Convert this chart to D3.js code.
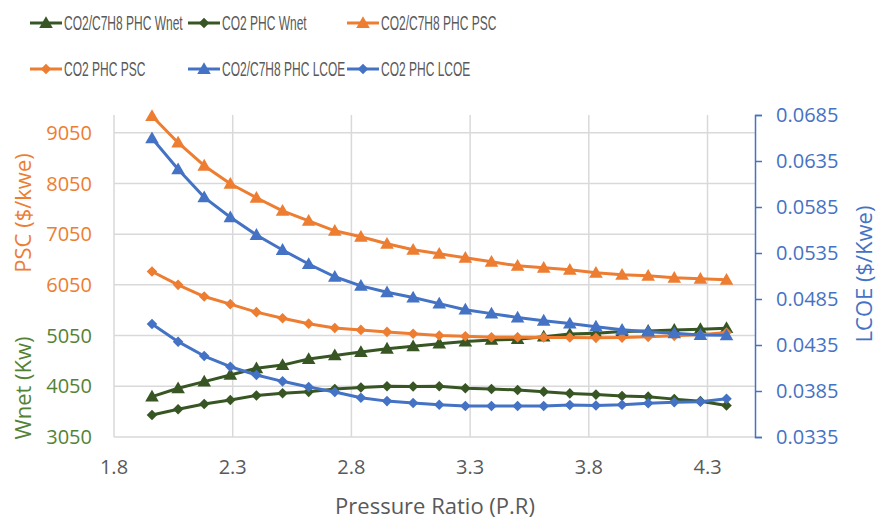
<!DOCTYPE html>
<html>
<head>
<meta charset="utf-8">
<script src="https://cdn.jsdelivr.net/npm/d3@7"></script>
<style>
  body { margin: 0; background: #fff; }
  svg { display: block; }
  .tick-label { font-family: "Open Sans", sans-serif; font-size: 20px; }
  .axis-title { font-family: "Open Sans", sans-serif; font-size: 22px; }
  .legend-label { font-family: "Liberation Sans", sans-serif; font-size: 20px; fill: #595959; }
</style>
</head>
<body>
<div id="chart"></div>
<script>
// Pressure ratio values (x)
const pressureRatio = [1.96, 2.07, 2.18, 2.29, 2.40, 2.51, 2.62, 2.73, 2.84, 2.95, 3.06, 3.17,
  3.28, 3.39, 3.50, 3.61, 3.72, 3.83, 3.94, 4.05, 4.16, 4.27, 4.38];

// Net work (Kw), left axis
const wnetMix = [3846, 4011, 4142, 4274, 4406, 4468, 4587, 4659, 4725, 4791, 4840, 4890,
  4931, 4965, 4979, 5028, 5080, 5097, 5129, 5142, 5162, 5176, 5196];
const wnetCO2 = [3484, 3597, 3701, 3780, 3870, 3913, 3940, 3995, 4027, 4050, 4045, 4050,
  4011, 3997, 3978, 3944, 3910, 3886, 3859, 3846, 3797, 3757, 3672];

// PSC ($/kwe), left axis
const pscMix = [9380, 8854, 8400, 8044, 7768, 7511, 7314, 7116, 6998, 6860, 6741, 6662,
  6583, 6505, 6426, 6386, 6347, 6287, 6248, 6228, 6189, 6169, 6149];
const pscCO2 = [6313, 6050, 5820, 5670, 5512, 5393, 5285, 5200, 5162, 5123, 5087, 5053,
  5037, 5018, 5018, 5014, 5012, 5005, 5010, 5025, 5045, 5065, 5110];

// LCOE ($/Kwe), right axis
const lcoeMix = [0.06597, 0.0626, 0.05955, 0.05738, 0.05546, 0.05383, 0.0523, 0.05092, 0.04993,
  0.04923, 0.04866, 0.048, 0.04734, 0.04691, 0.04649, 0.04614, 0.04583, 0.04549, 0.04515,
  0.04495, 0.04477, 0.04459, 0.04455];
const lcoeCO2 = [0.04578, 0.04386, 0.0423, 0.04114, 0.04024, 0.03955, 0.03893, 0.0384, 0.03776,
  0.0374, 0.0372, 0.037, 0.03687, 0.03687, 0.03687, 0.03687, 0.03698, 0.03692, 0.037,
  0.03716, 0.03728, 0.03734, 0.03765];

const xTicks = [1.8, 2.3, 2.8, 3.3, 3.8, 4.3];
const leftTicks = [3050, 4050, 5050, 6050, 7050, 8050, 9050];
const rightTicks = [0.0335, 0.0385, 0.0435, 0.0485, 0.0535, 0.0585, 0.0635, 0.0685];

const green = "#375623", greenText = "#548235", orange = "#ED7D31", blue = "#4472C4";
const grey = "#595959", grid = "#D9D9D9";

const series = [
  { name: "CO2/C7H8 PHC Wnet", values: wnetMix, axis: "left", color: green, marker: "triangle" },
  { name: "CO2 PHC Wnet", values: wnetCO2, axis: "left", color: green, marker: "diamond" },
  { name: "CO2/C7H8 PHC PSC", values: pscMix, axis: "left", color: orange, marker: "triangle" },
  { name: "CO2 PHC PSC", values: pscCO2, axis: "left", color: orange, marker: "diamond" },
  { name: "CO2/C7H8 PHC LCOE", values: lcoeMix, axis: "right", color: blue, marker: "triangle" },
  { name: "CO2 PHC LCOE", values: lcoeCO2, axis: "right", color: blue, marker: "diamond" }
];

const width = 880, height = 522;
const plot = { left: 114, right: 755, top: 115, bottom: 437 };

const svg = d3.select("#chart").append("svg")
  .attr("width", width)
  .attr("height", height);

const x = d3.scaleLinear().domain([1.8, 4.5]).range([plot.left, plot.right]);
const yLeft = d3.scaleLinear().domain([3050, 9400]).range([plot.bottom, plot.top]);
const yRight = d3.scaleLinear().domain([0.0335, 0.0685]).range([plot.bottom, plot.top]);

// gridlines
svg.append("g").selectAll("line.h")
  .data(leftTicks)
  .join("line")
  .attr("x1", plot.left).attr("x2", plot.right)
  .attr("y1", d => yLeft(d)).attr("y2", d => yLeft(d))
  .attr("stroke", grid).attr("stroke-width", 1.5);

svg.append("g").selectAll("line.v")
  .data(xTicks)
  .join("line")
  .attr("x1", d => x(d)).attr("x2", d => x(d))
  .attr("y1", plot.top).attr("y2", plot.bottom)
  .attr("stroke", grid).attr("stroke-width", 1.5);

// x tick labels
svg.append("g").selectAll("text")
  .data(xTicks)
  .join("text")
  .attr("class", "tick-label")
  .attr("x", d => x(d))
  .attr("y", 474)
  .attr("text-anchor", "middle")
  .attr("fill", grey)
  .text(d => d.toFixed(1));

// left tick labels: PSC range in orange, Wnet range in green
svg.append("g").selectAll("text")
  .data(leftTicks)
  .join("text")
  .attr("class", "tick-label")
  .attr("x", 92)
  .attr("y", d => yLeft(d))
  .attr("dy", "0.36em")
  .attr("text-anchor", "end")
  .attr("fill", d => d >= 6050 ? orange : greenText)
  .text(d => d);

// right axis
const rightAxis = d3.axisRight(yRight)
  .tickValues(rightTicks)
  .tickSize(7)
  .tickPadding(14)
  .tickFormat(d3.format(".4f"));

const ra = svg.append("g")
  .attr("transform", `translate(${plot.right},0)`)
  .call(rightAxis);
ra.select(".domain").attr("stroke", blue).attr("stroke-width", 1.5);
ra.selectAll(".tick line").attr("stroke", blue).attr("stroke-width", 1.5);
ra.selectAll(".tick text")
  .attr("class", "tick-label")
  .attr("fill", blue)
  .style("font-size", "20px");

// axis titles
svg.append("text")
  .attr("class", "axis-title")
  .attr("x", 435).attr("y", 514)
  .attr("text-anchor", "middle")
  .attr("fill", grey)
  .text("Pressure Ratio (P.R)");

svg.append("text")
  .attr("class", "axis-title")
  .attr("transform", "translate(31,213) rotate(-90)")
  .attr("text-anchor", "middle")
  .attr("fill", orange)
  .text("PSC ($/kwe)");

svg.append("text")
  .attr("class", "axis-title")
  .attr("transform", "translate(31,388) rotate(-90)")
  .attr("text-anchor", "middle")
  .attr("fill", greenText)
  .text("Wnet (Kw)");

svg.append("text")
  .attr("class", "axis-title")
  .attr("transform", "translate(872,274) rotate(-90)")
  .attr("text-anchor", "middle")
  .attr("fill", blue)
  .text("LCOE ($/Kwe)");

// markers
const triangle = d3.symbol().type(d3.symbolTriangle).size(80);
const diamond = d3.symbol().type(d3.symbolSquare).size(56);
function drawMarker(g, type, color) {
  if (type === "triangle") {
    g.append("path").attr("d", triangle()).attr("fill", color)
      .attr("transform", "translate(0,1)");
  } else {
    g.append("path").attr("d", diamond()).attr("fill", color)
      .attr("transform", "rotate(45)");
  }
}

// series lines + markers
series.forEach(s => {
  const y = s.axis === "left" ? yLeft : yRight;
  const pts = s.values.map((v, i) => [x(pressureRatio[i]), y(v)]);
  svg.append("path")
    .datum(pts)
    .attr("fill", "none")
    .attr("stroke", s.color)
    .attr("stroke-width", 3)
    .attr("stroke-linejoin", "round")
    .attr("d", d3.line());
  pts.forEach(p => {
    const g = svg.append("g").attr("transform", `translate(${p[0]},${p[1]})`);
    drawMarker(g, s.marker, s.color);
  });
});

// legend (text squeezed horizontally like the original)
const legendCols = [30, 188, 347];
const legendRows = [23, 69];
series.forEach((s, i) => {
  const lx = legendCols[i % 3], ly = legendRows[Math.floor(i / 3)];
  const g = svg.append("g").attr("transform", `translate(${lx},${ly})`);
  g.append("line")
    .attr("x1", 0).attr("x2", 32)
    .attr("stroke", s.color).attr("stroke-width", 3);
  const m = g.append("g").attr("transform", "translate(16,0)");
  drawMarker(m, s.marker, s.color);
  g.append("text")
    .attr("class", "legend-label")
    .attr("transform", "translate(34,0) scale(0.6,1)")
    .attr("dy", "0.35em")
    .text(s.name);
});
</script>
</body>
</html>
